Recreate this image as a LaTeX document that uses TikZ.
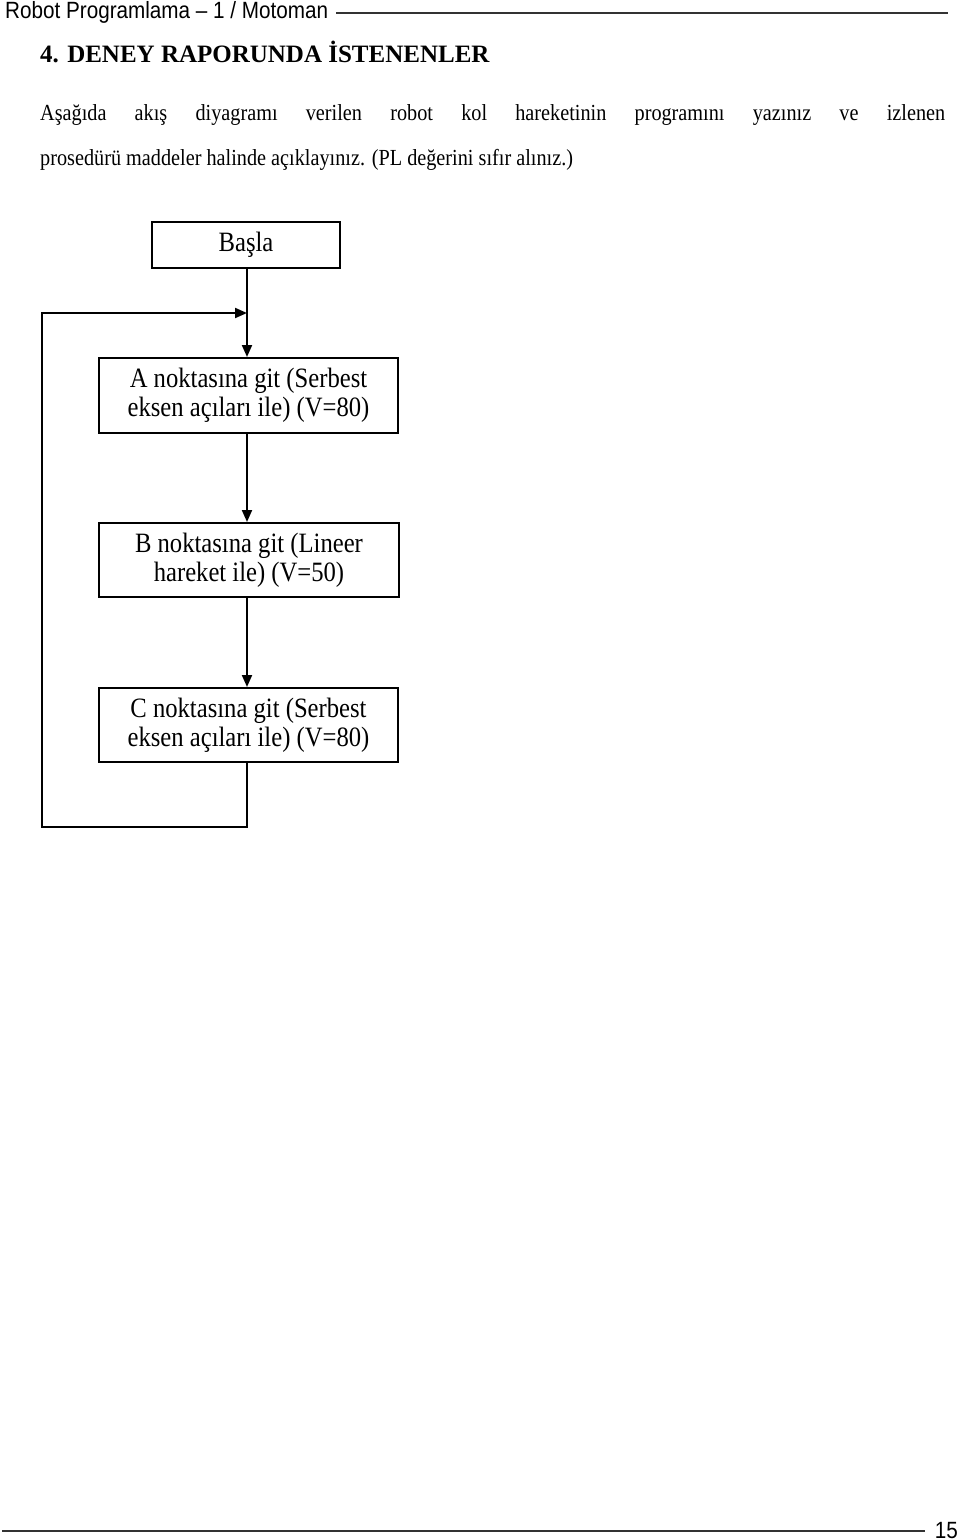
\documentclass[tikz,border=0pt]{standalone}
\usepackage{fontspec}
\setmainfont{Liberation Serif}[FakeStretch=0.88]
\newfontfamily\hdrfont{Liberation Sans}[FakeStretch=0.88]
\newfontfamily\ttlfont{Liberation Serif}
\usetikzlibrary{arrows.meta}
\begin{document}
\begin{tikzpicture}[x=1pt,y=-1pt,
  flowbox/.style={draw,line width=2pt,inner sep=0pt,align=center,
    font=\fontsize{28}{29}\selectfont},
  conn/.style={line width=2pt},
  arr/.style={conn,-{Triangle[length=12pt,width=10pt]}},
  rule/.style={line width=1.6pt,draw=black!80}]
\useasboundingbox (0,0) rectangle (960,1540);
% header
\node[anchor=base west,inner sep=0pt,font=\hdrfont\fontsize{23.5}{25}\selectfont] (hdr) at (5,18) {Robot Programlama – 1 / Motoman};
\coordinate (hdrend) at (948,13);
\draw[rule] ([xshift=8pt]hdr.east |- hdrend) -- (hdrend);
% title
\node[anchor=base west,inner sep=0pt,font=\ttlfont\bfseries\fontsize{25}{29}\selectfont] (title) at (40,62) {4. DENEY RAPORUNDA İSTENENLER};
% paragraph
\node[anchor=base west,inner sep=0pt,font=\fontsize{23}{45}\selectfont] (p1) at (40,120)
  {\makebox[905pt][s]{Aşağıda akış diyagramı verilen robot kol hareketinin programını yazınız ve izlenen}};
\node[anchor=base west,inner sep=0pt,font=\fontsize{23}{45}\selectfont] (p2) at (40,165)
  {prosedürü maddeler halinde açıklayınız. (PL değerini sıfır alınız.)};
% flow boxes
\node[flowbox,minimum width=188pt,minimum height=46pt] (start) at (246,245) {Başla};
\node[flowbox,minimum width=299pt,minimum height=75pt] (a) at (248.5,395.5) {A noktasına git (Serbest\\eksen açıları ile) (V=80)};
\node[flowbox,minimum width=300pt,minimum height=74pt] (b) at (249,560) {B noktasına git (Lineer\\hareket ile) (V=50)};
\node[flowbox,minimum width=299pt,minimum height=74pt] (c) at (248.5,725) {C noktasına git (Serbest\\eksen açıları ile) (V=80)};
% connectors
\coordinate (join) at (247,313);
\coordinate (bl) at (42,827);
\coordinate (br) at (247,827);
\coordinate (tl) at (42,313);
\draw[arr] (start.south -| join) -- (a.north -| join);
\draw[arr] (a.south -| join) -- (b.north -| join);
\draw[arr] (b.south -| join) -- (c.north -| join);
\draw[arr] (c.south -| join) -- (br) -- (bl) -- (tl) -- (join);
% footer
\node[anchor=base east,inner sep=0pt,font=\hdrfont\fontsize{23.5}{25}\selectfont] (pg) at (958,1538) {15};
\coordinate (ftl) at (2,1531);
\draw[rule] (ftl) -- ([xshift=-10pt]pg.west |- ftl);
\end{tikzpicture}
\end{document}
